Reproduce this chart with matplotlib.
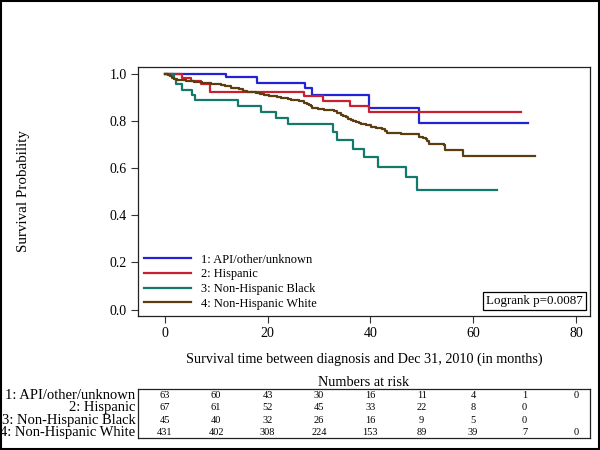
import matplotlib
matplotlib.use("Agg")
import matplotlib.pyplot as plt
from matplotlib.patches import Rectangle

# ---- data ----
group_labels = ["1: API/other/unknown", "2: Hispanic", "3: Non-Hispanic Black", "4: Non-Hispanic White"]

api_t = [0, 11.9, 18.0, 27.2, 28.6, 39.8, 49.5, 70.6]
api_s = [1.0, 0.986, 0.964, 0.940, 0.911, 0.854, 0.794, 0.794]

hisp_t = [0, 3.4, 5.1, 7.0, 8.75, 27.0, 30.8, 36.0, 39.8, 69.3]
hisp_s = [1.0, 0.985, 0.971, 0.956, 0.926, 0.908, 0.887, 0.863, 0.840, 0.840]

black_t = [0, 1.8, 2.1, 3.4, 5.4, 5.8, 14.3, 18.7, 21.7, 24.0, 32.7, 33.5, 36.7, 38.8, 41.4, 46.9, 49.0, 64.6]
black_s = [1.0, 0.978, 0.956, 0.933, 0.911, 0.889, 0.865, 0.841, 0.815, 0.788, 0.756, 0.721, 0.684, 0.646, 0.606, 0.562, 0.508, 0.508]

white_t = [0, 0.6, 1.0, 1.4, 1.8, 2.4, 3.1, 4.2, 5.6, 7.2, 9.0, 10.0, 10.9, 11.8, 12.8, 13.7, 14.5, 15.3, 16.1, 16.9,
           17.7, 18.5, 19.3, 20.2, 21.0, 21.8, 22.6, 23.3, 24.0, 24.6, 25.2, 26.2, 27.1, 27.6, 28.0, 28.4, 28.7, 29.9,
           31.0, 32.9, 33.6, 34.2, 34.7, 35.2, 35.7, 36.2, 36.7, 37.2, 37.7, 38.1, 39.1, 40.1, 41.2, 42.3, 42.8, 43.3,
           46.0, 48.5, 49.5, 50.2, 50.8, 51.1, 51.4, 54.3, 54.5, 58.0, 72.0]
white_s = [1.0, 0.995, 0.99, 0.985, 0.98, 0.976, 0.973, 0.970, 0.968, 0.964, 0.96, 0.957, 0.954, 0.948, 0.943, 0.939, 0.935, 0.930, 0.926, 0.922,
           0.919, 0.915, 0.912, 0.909, 0.906, 0.903, 0.90, 0.897, 0.895, 0.892, 0.889, 0.884, 0.879, 0.875, 0.870, 0.864, 0.858, 0.852,
           0.847, 0.845, 0.836, 0.828, 0.822, 0.817, 0.811, 0.805, 0.801, 0.797, 0.792, 0.788, 0.782, 0.777, 0.772, 0.768, 0.758, 0.749,
           0.746, 0.744, 0.735, 0.730, 0.725, 0.714, 0.704, 0.697, 0.679, 0.653, 0.653]

risk_times = [0, 10, 20, 30, 40, 50, 60, 70, 80]
api_risk = [63, 60, 43, 30, 16, 11, 4, 1, 0]
hisp_risk = [67, 61, 52, 45, 33, 22, 8, 0]
black_risk = [45, 40, 32, 26, 16, 9, 5, 0]
white_risk = [431, 402, 308, 224, 153, 89, 39, 7, 0]

x_ticks = [0, 20, 40, 60, 80]
y_ticks = [0.0, 0.2, 0.4, 0.6, 0.8, 1.0]
logrank_text = "Logrank p=0.0087"

colors = ["#2323d6", "#c8202e", "#13796b", "#5c3d0f"]

plt.rcParams['font.family'] = ['Liberation Serif', 'DejaVu Serif']

fig = plt.figure(figsize=(6, 4.5), dpi=100)
xlim = (-5.2, 82.7)

ax = fig.add_axes([0.23, 0.298, 0.753, 0.553])
series = [(api_t, api_s), (hisp_t, hisp_s), (black_t, black_s), (white_t, white_s)]
for (t, s), c, lab in zip(series, colors, group_labels):
    ax.step(t, s, where="post", color=c, lw=1.6, label=lab)
ax.set_xlim(*xlim)
ax.set_ylim(-0.027, 1.03)
ax.set_xticks(x_ticks)
ax.set_yticks(y_ticks)
ax.set_yticklabels([f"{v:.1f}" for v in y_ticks])
ax.tick_params(labelsize=10, length=5, width=0.8, color="#333333", pad=3)
for sp in ax.spines.values():
    sp.set_linewidth(0.9)
    sp.set_color("#222222")
ax.set_xlabel("Survival time between diagnosis and Dec 31, 2010 (in months)", fontsize=10.2, labelpad=9)
ax.set_ylabel("Survival Probability", fontsize=10.8, labelpad=0)
ax.yaxis.set_label_coords(-0.24, 0.5)

leg = ax.legend(loc="lower left", frameon=False, fontsize=8.9, handlelength=3.8,
                handletextpad=0.8, labelspacing=0.22, borderaxespad=0.4, borderpad=0.1)

ax.text(0.984, 0.035, logrank_text, transform=ax.transAxes, ha="right", va="bottom", fontsize=9.4,
        bbox=dict(boxstyle="square,pad=0.25", fc="white", ec="black", lw=0.9))

# risk table
tab = fig.add_axes([0.23, 0.026, 0.753, 0.11])
tab.set_xlim(*xlim)
tab.set_ylim(4.0, 0.0)
tab.set_xticks([])
tab.set_yticks([])
for sp in tab.spines.values():
    sp.set_linewidth(0.9)
    sp.set_color("#222222")
risks = [api_risk, hisp_risk, black_risk, white_risk]
for i, (r, lab) in enumerate(zip(risks, group_labels)):
    y = i + 0.55
    for tt, v in zip(risk_times, r):
        tab.text(tt, y, str(v), ha="center", va="center", fontsize=7.5)
    tab.text(-0.006, y, lab, transform=tab.get_yaxis_transform(), ha="right", va="center", fontsize=10.5)
tab.set_title("Numbers at risk", fontsize=10.3, pad=2)

fig.patches.append(Rectangle((0.0015, 0.002), 0.997, 0.996, transform=fig.transFigure,
                             fill=False, ec="black", lw=1.5))

fig.savefig("out.png", dpi=100)
